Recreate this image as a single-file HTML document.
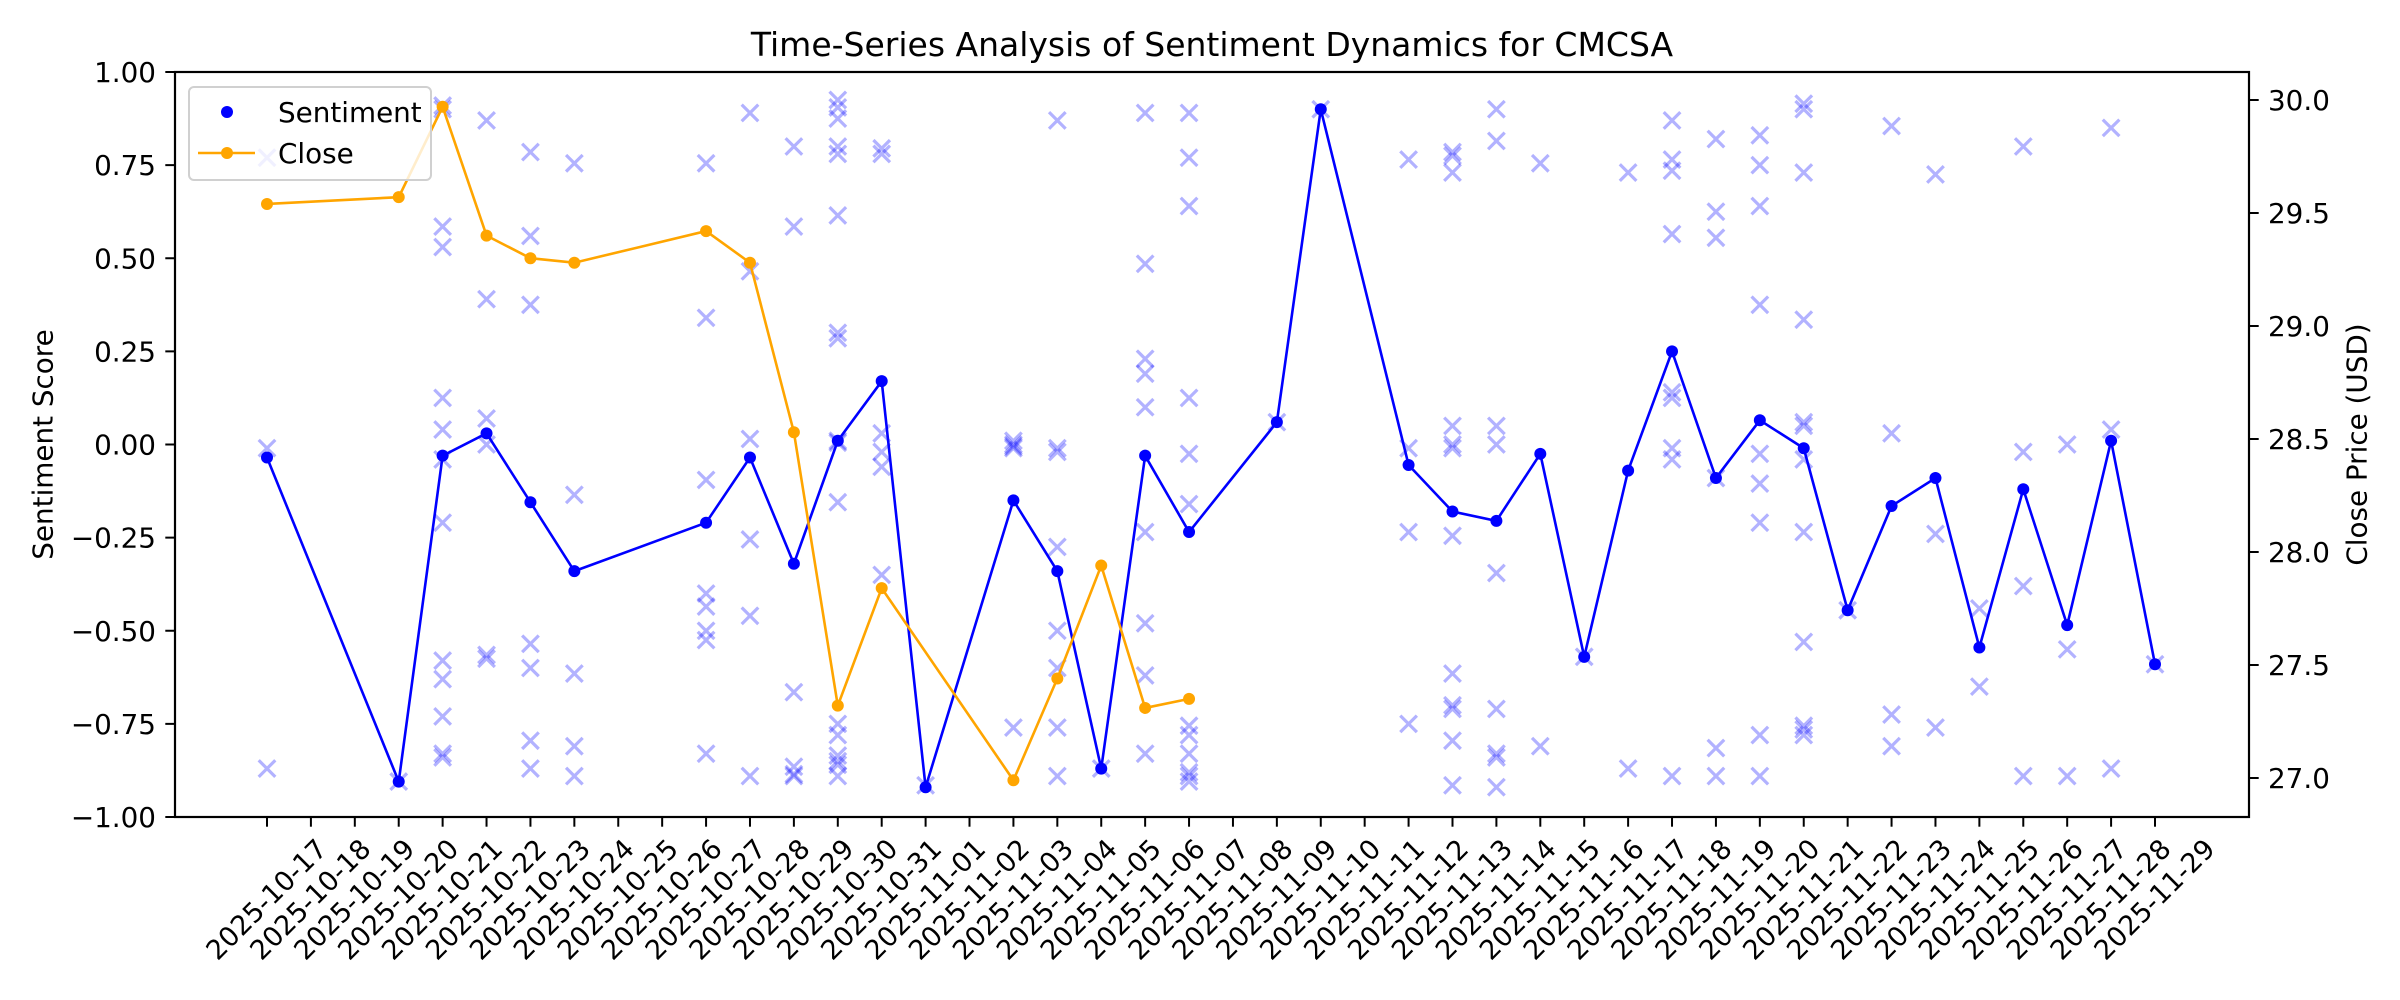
<!DOCTYPE html>
<html><head><meta charset="utf-8"><style>
body{margin:0;background:#fff;}
svg{display:block;font-family:"DejaVu Sans","Liberation Sans",sans-serif;}
</style></head><body>
<svg id="chart" width="2400" height="1000" viewBox="0 0 2400 1000" xmlns="http://www.w3.org/2000/svg">
<rect width="2400" height="1000" fill="#fff"/>
<text x="1212" y="56" font-size="33" text-anchor="middle">Time-Series Analysis of Sentiment Dynamics for CMCSA</text>
<g id="marks"></g>
<g id="axes"></g>
</svg>
<script>
const dates = ["2025-10-17","2025-10-18","2025-10-19","2025-10-20","2025-10-21","2025-10-22","2025-10-23","2025-10-24","2025-10-25","2025-10-26","2025-10-27","2025-10-28","2025-10-29","2025-10-30","2025-10-31","2025-11-01","2025-11-02","2025-11-03","2025-11-04","2025-11-05","2025-11-06","2025-11-07","2025-11-08","2025-11-09","2025-11-10","2025-11-11","2025-11-12","2025-11-13","2025-11-14","2025-11-15","2025-11-16","2025-11-17","2025-11-18","2025-11-19","2025-11-20","2025-11-21","2025-11-22","2025-11-23","2025-11-24","2025-11-25","2025-11-26","2025-11-27","2025-11-28","2025-11-29"];
const sentDates = ["2025-10-17","2025-10-20","2025-10-21","2025-10-22","2025-10-23","2025-10-24","2025-10-27","2025-10-28","2025-10-29","2025-10-30","2025-10-31","2025-11-01","2025-11-03","2025-11-04","2025-11-05","2025-11-06","2025-11-07","2025-11-09","2025-11-10","2025-11-12","2025-11-13","2025-11-14","2025-11-15","2025-11-16","2025-11-17","2025-11-18","2025-11-19","2025-11-20","2025-11-21","2025-11-22","2025-11-23","2025-11-24","2025-11-25","2025-11-26","2025-11-27","2025-11-28","2025-11-29"];
const sentValues = [-0.035,-0.905,-0.03,0.03,-0.155,-0.34,-0.21,-0.035,-0.32,0.01,0.17,-0.92,-0.15,-0.34,-0.87,-0.03,-0.235,0.06,0.90,-0.055,-0.18,-0.205,-0.025,-0.57,-0.07,0.25,-0.09,0.065,-0.01,-0.445,-0.165,-0.09,-0.545,-0.12,-0.485,0.01,-0.59];
const closeDates = ["2025-10-17","2025-10-20","2025-10-21","2025-10-22","2025-10-23","2025-10-24","2025-10-27","2025-10-28","2025-10-29","2025-10-30","2025-10-31","2025-11-03","2025-11-04","2025-11-05","2025-11-06","2025-11-07"];
const closeValues = [29.54,29.57,29.97,29.40,29.30,29.28,29.42,29.28,28.53,27.32,27.84,26.99,27.44,27.94,27.31,27.35];
const rawDates = ["2025-10-17","2025-10-20","2025-10-21","2025-10-22","2025-10-23","2025-10-24","2025-10-27","2025-10-28","2025-10-29","2025-10-30","2025-10-31","2025-11-01","2025-11-03","2025-11-04","2025-11-05","2025-11-06","2025-11-07","2025-11-09","2025-11-10","2025-11-12","2025-11-13","2025-11-14","2025-11-15","2025-11-16","2025-11-17","2025-11-18","2025-11-19","2025-11-20","2025-11-21","2025-11-22","2025-11-23","2025-11-24","2025-11-25","2025-11-26","2025-11-27","2025-11-28","2025-11-29"];
const rawScores = [
[0.77,-0.01,-0.87],
[-0.905],
[0.91,0.90,0.585,0.53,0.125,0.04,-0.04,-0.21,-0.58,-0.63,-0.73,-0.83,-0.84],
[0.87,0.39,0.07,0.0,-0.565,-0.575],
[0.785,0.56,0.375,-0.535,-0.60,-0.795,-0.87],
[0.755,-0.135,-0.615,-0.81,-0.89],
[0.755,0.34,-0.095,-0.40,-0.435,-0.50,-0.525,-0.83],
[0.89,0.465,0.015,-0.255,-0.46,-0.89],
[0.80,0.585,-0.665,-0.865,-0.885,-0.89],
[0.925,0.905,0.875,0.80,0.78,0.615,0.30,0.285,0.01,0.005,-0.155,-0.75,-0.78,-0.835,-0.85,-0.86,-0.89],
[0.795,0.78,0.03,-0.02,-0.06,-0.35],
[-0.915],
[0.01,0.0,-0.005,-0.01,-0.76],
[0.87,-0.01,-0.02,-0.275,-0.50,-0.60,-0.76,-0.89],
[-0.87],
[0.89,0.485,0.23,0.19,0.10,-0.235,-0.48,-0.62,-0.83],
[0.89,0.77,0.64,0.125,-0.025,-0.16,-0.755,-0.78,-0.83,-0.88,-0.89,-0.905],
[0.06],
[0.90],
[0.765,-0.01,-0.235,-0.75],
[0.785,0.775,0.73,0.05,0.0,-0.01,-0.245,-0.615,-0.70,-0.71,-0.795,-0.915],
[0.90,0.815,0.05,0.0,-0.345,-0.71,-0.83,-0.84,-0.92],
[0.755,-0.81],
[-0.57],
[0.73,-0.87],
[0.87,0.765,0.735,0.565,0.14,0.125,-0.01,-0.04,-0.89],
[0.82,0.625,0.555,-0.09,-0.815,-0.89],
[0.83,0.75,0.64,0.375,-0.025,-0.105,-0.21,-0.78,-0.89],
[0.915,0.90,0.73,0.335,0.06,0.05,-0.04,-0.235,-0.53,-0.755,-0.765,-0.78],
[-0.445],
[0.855,0.03,-0.725,-0.81],
[0.725,-0.24,-0.76],
[-0.44,-0.65],
[0.80,-0.02,-0.38,-0.89],
[0.0,-0.55,-0.89],
[0.85,0.04,-0.87],
[-0.59]
];
const leftTicks = [-1.00,-0.75,-0.50,-0.25,0.00,0.25,0.50,0.75,1.00];
const rightTicks = [27.0,27.5,28.0,28.5,29.0,29.5,30.0];

const L=175,R=2249,T=72,B=817;
const X0=267,DX=(2155-267)/43;
function xPos(d){return X0+dates.indexOf(d)*DX;}
function yL(v){return B-(v+1)/2*(B-T);}
function yR(v){return 778-(v-27)*226;}
const NS="http://www.w3.org/2000/svg";
function mk(tag,attrs,parent){const e=document.createElementNS(NS,tag);for(const k in attrs)e.setAttribute(k,attrs[k]);parent.appendChild(e);return e;}
const marks=document.getElementById('marks'), axes=document.getElementById('axes');

rawDates.forEach((d,i)=>{rawScores[i].forEach(s=>{
  const cx=xPos(d),cy=yL(s),h=8.3;
  const p=mk('path',{d:`M${cx-h},${cy-h}L${cx+h},${cy+h}M${cx-h},${cy+h}L${cx+h},${cy-h}`,stroke:'#0000ff','stroke-opacity':0.3,'stroke-width':3.2,fill:'none'},marks);
  
  
});});

const sl=mk('polyline',{points:sentDates.map((d,i)=>xPos(d)+','+yL(sentValues[i])).join(' '),fill:'none',stroke:'#0000ff','stroke-width':2.6},marks);


sentDates.forEach((d,i)=>{const c=mk('circle',{cx:xPos(d),cy:yL(sentValues[i]),r:6,fill:'#0000ff'},marks);
  
  });

const cl=mk('polyline',{points:closeDates.map((d,i)=>xPos(d)+','+yR(closeValues[i])).join(' '),fill:'none',stroke:'#ffa500','stroke-width':2.6},marks);


closeDates.forEach((d,i)=>{const c=mk('circle',{cx:xPos(d),cy:yR(closeValues[i]),r:6,fill:'#ffa500'},marks);
  
  });

const fr=mk('rect',{x:L,y:T,width:R-L,height:B-T,fill:'none',stroke:'#000','stroke-width':2.2},axes);



leftTicks.forEach(v=>{const y=yL(v);
  mk('line',{x1:L-9.7,x2:L,y1:y,y2:y,stroke:'#000','stroke-width':2},axes);
  const t=mk('text',{x:L-19,y:y+10,'font-size':27.8,'text-anchor':'end'},axes);t.textContent=v.toFixed(2).replace('-','\u2212');
  
  });
rightTicks.forEach(v=>{const y=yR(v);
  mk('line',{x1:R,x2:R+9.7,y1:y,y2:y,stroke:'#000','stroke-width':2},axes);
  const t=mk('text',{x:R+19,y:y+10,'font-size':27.8,'text-anchor':'start'},axes);t.textContent=v.toFixed(1);
  
  });
dates.forEach(d=>{const x=xPos(d);
  mk('line',{x1:x,x2:x,y1:B,y2:B+9.7,stroke:'#000','stroke-width':2},axes);
  const cy=900;
  const t=mk('text',{x:x,y:cy,'font-size':27,'text-anchor':'middle','dominant-baseline':'central',transform:`rotate(-45 ${x} ${cy})`},axes);t.textContent=d;
  
  });

const yl=mk('text',{x:43,y:(T+B)/2,'font-size':27.8,'text-anchor':'middle','dominant-baseline':'central',transform:`rotate(-90 43 ${(T+B)/2})`},axes);yl.textContent='Sentiment Score';


const yr=mk('text',{x:2357,y:(T+B)/2,'font-size':27.8,'text-anchor':'middle','dominant-baseline':'central',transform:`rotate(-90 2357 ${(T+B)/2})`},axes);yr.textContent='Close Price (USD)';



const lg=mk('g',{},axes);


mk('rect',{x:189,y:87,width:242,height:93,rx:5,fill:'#fff','fill-opacity':0.8,stroke:'#d0d0d0','stroke-width':2},lg);
mk('circle',{cx:227,cy:112,r:6,fill:'#0000ff'},lg);
const t1=mk('text',{x:278,y:122,'font-size':27.8},lg);t1.textContent='Sentiment';


mk('line',{x1:198,x2:255,y1:153,y2:153,stroke:'#ffa500','stroke-width':2.6},lg);
mk('circle',{cx:227,cy:153,r:6,fill:'#ffa500'},lg);
const t2=mk('text',{x:278,y:163,'font-size':27.8},lg);t2.textContent='Close';


</script>
</body></html>
